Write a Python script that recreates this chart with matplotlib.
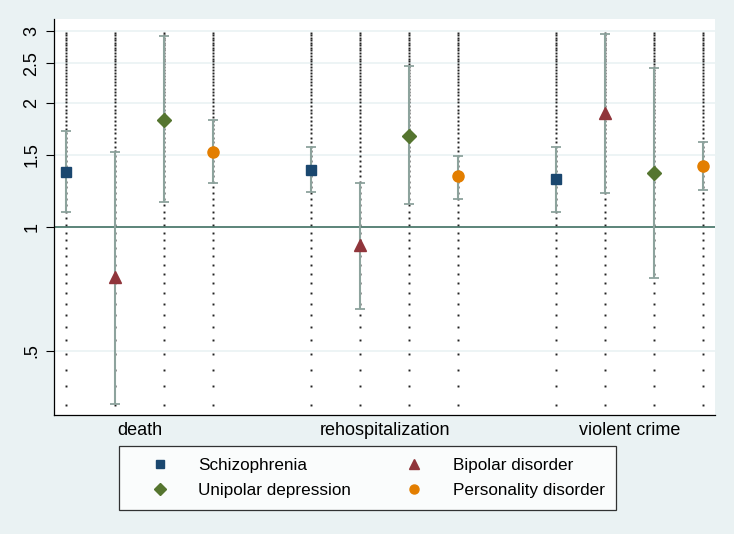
import numpy as np
import matplotlib.pyplot as plt
from matplotlib.lines import Line2D

# data (odds/hazard ratios with 95% CI)
outcomes = ["death", "rehospitalization", "violent crime"]
disorders = ["Schizophrenia", "Bipolar disorder", "Unipolar depression", "Personality disorder"]

est_death = [1.36, 0.756, 1.82, 1.52]
lo_death = [1.09, 0.371, 1.15, 1.28]
hi_death = [1.71, 1.52, 2.92, 1.82]

est_rehosp = [1.38, 0.905, 1.67, 1.33]
lo_rehosp = [1.22, 0.632, 1.14, 1.17]
hi_rehosp = [1.57, 1.28, 2.46, 1.49]

est_violent = [1.31, 1.89, 1.35, 1.41]
lo_violent = [1.09, 1.21, 0.753, 1.23]
hi_violent = [1.57, 2.95, 2.44, 1.61]

yticks = [0.5, 1, 1.5, 2, 2.5, 3]
ytick_labels = [".5", "1", "1.5", "2", "2.5", "3"]

colors = ["#1a476f", "#90353b", "#55752f", "#e37e00"]
markers = ["s", "^", "D", "o"]
msizes = [7.5, 8.5, 7.5, 8]

plt.rcParams['font.family'] = ['Liberation Sans', 'DejaVu Sans']
bg = "#eaf2f3"

fig = plt.figure(figsize=(7.34, 5.34), dpi=100, facecolor=bg)
ax = fig.add_axes([0.0736, 0.2228, 0.9005, 0.7416])
ax.set_facecolor("white")

est = [est_death, est_rehosp, est_violent]
lo = [lo_death, lo_rehosp, lo_violent]
hi = [hi_death, hi_rehosp, hi_violent]

# dotted guide lines (evenly spaced in data units, as in the original)
guide = np.arange(0.37, 3.0, 0.04)

for g in range(3):
    for d in range(4):
        x = 1 + g * 5 + d
        ax.plot(np.full(len(guide), x), guide, ls="none", marker="s",
                ms=1.4, mew=0, color="#222222", zorder=1)
        ax.errorbar(x, est[g][d],
                    yerr=[[est[g][d] - lo[g][d]], [hi[g][d] - est[g][d]]],
                    fmt="none", ecolor="#8da39d", elinewidth=1.5,
                    capsize=3.3, capthick=1.3, zorder=2)
        ax.plot(x, est[g][d], marker=markers[d], ms=msizes[d],
                color=colors[d], mec=colors[d], ls="none", zorder=3)

ax.axhline(1, color="#3f6f62", lw=1.2, zorder=1.5)

ax.set_yscale("log")
ax.set_ylim(0.349, 3.207)
ax.set_xlim(1 - 0.245, 14 + 0.245)
ax.yaxis.set_major_locator(plt.FixedLocator(yticks))
ax.yaxis.set_minor_locator(plt.NullLocator())
ax.set_yticklabels(ytick_labels, rotation=90, va="center", fontsize=13)
for y in yticks:
    if y != 1:
        ax.axhline(y, color=bg, lw=1.2, zorder=0)
ax.tick_params(axis="y", length=6, width=0.8, pad=4)

ax.set_xticks([2.5, 7.5, 12.5])
ax.set_xticklabels(outcomes, fontsize=13)
ax.tick_params(axis="x", length=0, pad=5)

ax.spines["top"].set_visible(False)
ax.spines["right"].set_visible(False)
ax.spines["left"].set_linewidth(0.9)
ax.spines["bottom"].set_linewidth(0.9)

handles = [Line2D([], [], ls="none", marker=markers[i], ms=msizes[i] - 1.5,
                  color=colors[i]) for i in range(4)]
order = [0, 2, 1, 3]
leg = fig.legend([handles[i] for i in order], [disorders[i] for i in order],
                 ncol=2, loc="center", bbox_to_anchor=(0.5007, 0.105),
                 fontsize=12.3, frameon=True, fancybox=False, edgecolor="black",
                 handletextpad=0.55, columnspacing=2.0, handlelength=3.4,
                 borderpad=0.7, labelspacing=0.55)
leg.get_frame().set_linewidth(0.9)
leg.get_frame().set_facecolor("white")

fig.savefig("out.png", dpi=100, facecolor=bg)
